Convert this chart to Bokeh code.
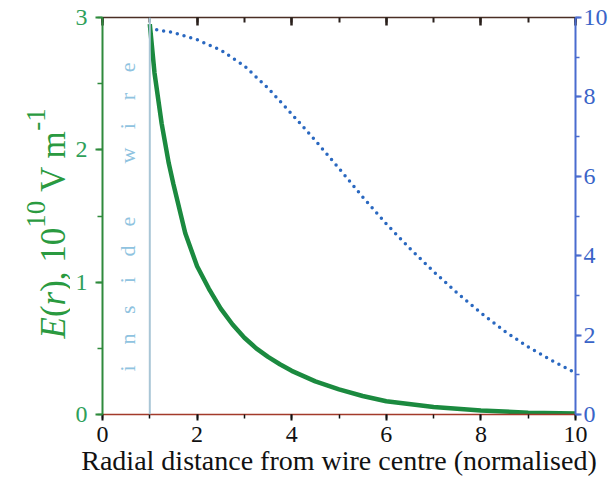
import numpy as np
from bokeh.plotting import figure
from bokeh.layouts import row
from bokeh.models import Range1d, LinearAxis, SingleIntervalTicker, Span, Label
from bokeh.embed import file_html
from bokeh.resources import INLINE

# ---------------- data ----------------
# radial field E(r), units 10^10 V/m (left axis)
r_field = [1.0, 1.1, 1.25, 1.4, 1.5, 1.75, 2.0, 2.25, 2.5, 2.75, 3.0, 3.25, 3.5, 3.75,
           4.0, 4.5, 5.0, 5.5, 6.0, 7.0, 8.0, 9.0, 10.0]
E_field = [2.95, 2.58, 2.2, 1.9, 1.74, 1.37, 1.12, 0.95, 0.80, 0.68, 0.58, 0.50, 0.435, 0.38,
           0.33, 0.25, 0.19, 0.14, 0.10, 0.056, 0.03, 0.014, 0.007]

# dotted series (right axis)
r_dens = [1.0, 1.5, 2.0, 2.5, 3.0, 3.5, 4.0, 4.5, 5.0, 5.5, 6.0, 6.5, 7.0, 7.5, 8.0, 8.5, 9.0, 9.5, 10.0]
dens = [9.72, 9.62, 9.44, 9.18, 8.78, 8.22, 7.57, 6.9, 6.2, 5.48, 4.8, 4.18, 3.6, 3.06, 2.56, 2.1, 1.7, 1.36, 1.05]

wire_radius = 1.0
x_limits = (0, 10)
y_left_limits = (0, 3)
y_right_limits = (0, 10)

x_label = "Radial distance from wire centre (normalised)"
wire_text = "inside wire"

# ---------------- styling ----------------
FONT = "Liberation Serif"
GREEN = "#1b8a3f"
GREEN_AX = "#2f8a3c"
GREEN_TXT = "#2ea05a"
GREEN_LABEL = "#2a9a40"
BLUE = "#2a68c0"
BLUE_AX = "#4a6ccf"
WIRE_LINE = "#a9c6d6"
WIRE_TXT = "#8fc3e0"

TOTAL_W = 610
FIG_H = 486
LABEL_W = 70
MAIN_W = TOTAL_W - LABEL_W

p = figure(width=MAIN_W, height=FIG_H, output_backend="svg", toolbar_location=None,
           x_range=Range1d(*x_limits), y_range=Range1d(*y_left_limits),
           x_axis_location=None, y_axis_location=None,
           min_border_left=32, min_border_top=17, min_border_right=2, min_border_bottom=72)
p.frame_align = False
p.extra_y_ranges = {"dens": Range1d(*y_right_limits)}
p.xgrid.visible = False
p.ygrid.visible = False
p.outline_line_color = None
p.background_fill_color = "white"
p.border_fill_color = "white"

# bottom axis
xb = LinearAxis(ticker=SingleIntervalTicker(interval=2, num_minor_ticks=2))
xb.axis_label = x_label
xb.axis_label_text_font = FONT
xb.axis_label_text_font_size = "28px"
xb.axis_label_text_font_style = "normal"
xb.axis_label_text_color = "#111111"
xb.axis_label_standoff = 0
xb.major_label_text_font = FONT
xb.major_label_text_font_size = "24px"
xb.major_label_text_color = "#111111"
xb.major_label_standoff = 6
xb.axis_line_color = "#a33a2a"
xb.axis_line_width = 1.5
xb.major_tick_line_color = "#111111"
xb.minor_tick_line_color = "#111111"
xb.major_tick_line_width = 2
xb.minor_tick_line_width = 1.5
xb.major_tick_in = 0
xb.major_tick_out = 6
xb.minor_tick_in = 0
xb.minor_tick_out = 4
p.add_layout(xb, "below")

# top axis (ticks only, pointing inward, no labels drawn)
xt = LinearAxis(ticker=SingleIntervalTicker(interval=2, num_minor_ticks=2))
xt.major_label_text_font_size = "1px"
xt.major_label_text_color = None
xt.major_label_standoff = 0
xt.axis_line_color = "#4a2e24"
xt.axis_line_width = 1.5
xt.major_tick_line_color = "#2a201c"
xt.minor_tick_line_color = "#2a201c"
xt.major_tick_line_width = 2.5
xt.minor_tick_line_width = 2
xt.major_tick_in = 8
xt.major_tick_out = 0
xt.minor_tick_in = 5
xt.minor_tick_out = 0
p.add_layout(xt, "above")

# left axis
yl = LinearAxis(ticker=SingleIntervalTicker(interval=1, num_minor_ticks=2))
yl.axis_line_color = GREEN_AX
yl.axis_line_width = 2
yl.major_tick_line_color = GREEN_AX
yl.minor_tick_line_color = GREEN_AX
yl.major_tick_line_width = 2
yl.minor_tick_line_width = 1.5
yl.major_tick_in = 0
yl.major_tick_out = 7
yl.minor_tick_in = 0
yl.minor_tick_out = 5
yl.major_label_text_font = FONT
yl.major_label_text_font_size = "24px"
yl.major_label_text_color = GREEN_TXT
yl.major_label_standoff = 8
p.add_layout(yl, "left")

# right axis
yr = LinearAxis(y_range_name="dens", ticker=SingleIntervalTicker(interval=2, num_minor_ticks=2))
yr.axis_line_color = BLUE_AX
yr.axis_line_width = 2
yr.major_tick_line_color = BLUE_AX
yr.minor_tick_line_color = BLUE_AX
yr.major_tick_line_width = 2
yr.minor_tick_line_width = 1.5
yr.major_tick_in = 0
yr.major_tick_out = 6
yr.minor_tick_in = 0
yr.minor_tick_out = 4
yr.major_label_text_font = FONT
yr.major_label_text_font_size = "24px"
yr.major_label_text_color = "#3a64c8"
yr.major_label_standoff = 2
p.add_layout(yr, "right")

# wire boundary
p.add_layout(Span(location=wire_radius, dimension="height", line_color=WIRE_LINE, line_width=2))

# curves
p.line(r_dens, dens, y_range_name="dens", line_color=BLUE, line_width=3.5,
       line_dash="0 7", line_cap="round")
p.line(r_field, E_field, line_color=GREEN, line_width=4.5)

# "inside wire" letter-spaced vertical text
pitch = 29.4
word_gap = 66.0
pos = 46.0
for i, ch in enumerate(wire_text):
    if ch == " ":
        continue
    p.add_layout(Label(x=0, y=0, x_units="data", y_units="data",
                       x_offset=25, y_offset=pos, angle=np.pi / 2,
                       text=ch, text_font=FONT, text_font_size="22px",
                       text_color=WIRE_TXT, text_align="center",
                       text_baseline="alphabetic"))
    nxt = wire_text[i + 1] if i + 1 < len(wire_text) else ""
    pos += word_gap if nxt == " " else pitch

# ---------------- y-axis title strip (italic E, r and superscripts) ----------------
lf = figure(width=LABEL_W, height=FIG_H, output_backend="svg", toolbar_location=None,
            x_range=Range1d(0, LABEL_W), y_range=Range1d(0, FIG_H),
            x_axis_location=None, y_axis_location=None, min_border=0,
            min_border_left=0, min_border_right=0, min_border_top=0, min_border_bottom=0)
lf.frame_align = False
lf.xgrid.visible = False
lf.ygrid.visible = False
lf.outline_line_color = None
lf.background_fill_color = "white"
lf.border_fill_color = "white"

main_size = 35
sup_size = 27
base_x = 53
sup_raise = 18
pieces = [
    ("E", "italic", main_size, 0, 0.611, 0.0),
    ("(", "normal", main_size, 0, 0.333, 0.0),
    ("r", "italic", main_size, 0, 0.389, 0.0),
    ("), 10", "normal", main_size, 0, 1.833, 0.0),
    ("10", "normal", sup_size, sup_raise, 1.0, 0.0),
    ("V m", "normal", main_size, 0, 1.75, 0.25),
    ("-1", "normal", sup_size, sup_raise, 0.833, 0.0),
]
pos = FIG_H - 338.0
for txt, style, size, raise_, w_em, lead_em in pieces:
    pos += lead_em * size
    lf.add_layout(Label(x=base_x - raise_, y=pos, x_units="data", y_units="data",
                        angle=np.pi / 2,
                        text=txt, text_font=FONT, text_font_size=f"{size}px",
                        text_font_style=style, text_color=GREEN_LABEL,
                        text_align="left", text_baseline="alphabetic"))
    pos += w_em * size

layout = row(lf, p, spacing=0)
open("out.html", "w").write(file_html(layout, INLINE))
